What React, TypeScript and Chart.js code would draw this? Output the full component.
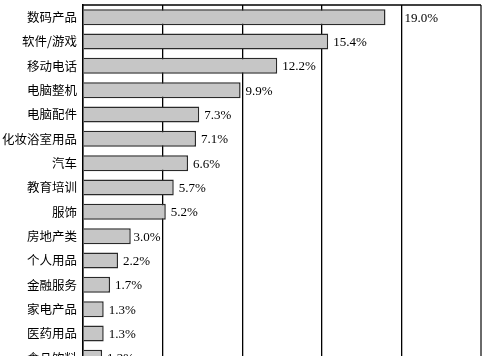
import React, { useEffect, useRef } from "react";
import { Chart, registerables } from "chart.js";

Chart.register(...registerables);

const categories = [
  "数码产品",
  "软件/游戏",
  "移动电话",
  "电脑整机",
  "电脑配件",
  "化妆浴室用品",
  "汽车",
  "教育培训",
  "服饰",
  "房地产类",
  "个人用品",
  "金融服务",
  "家电产品",
  "医药用品",
  "食品饮料",
];
const shares = [19.0, 15.4, 12.2, 9.9, 7.3, 7.1, 6.6, 5.7, 5.2, 3.0, 2.2, 1.7, 1.3, 1.3, 1.2];
const axisMin = 0;
const axisMax = 25;
const axisStep = 5;

const labelPlugin = {
  id: "valueLabels",
  beforeDatasetsDraw(chart: any) {
    const { ctx, chartArea } = chart;
    ctx.save();
    ctx.strokeStyle = "#000";
    ctx.lineWidth = 1.5;
    ctx.beginPath();
    ctx.moveTo(chartArea.left, chartArea.top);
    ctx.lineTo(chartArea.right, chartArea.top);
    ctx.stroke();
    ctx.restore();
  },
  afterDatasetsDraw(chart: any) {
    const { ctx } = chart;
    const xScale = chart.scales.x;
    const meta = chart.getDatasetMeta(0);
    const gridPx: number[] = [];
    for (let v = axisMin; v <= axisMax; v += axisStep) gridPx.push(xScale.getPixelForValue(v));
    ctx.save();
    ctx.font = "13px 'Liberation Serif', 'Times New Roman', serif";
    ctx.fillStyle = "#000";
    ctx.textBaseline = "middle";
    ctx.textAlign = "left";
    meta.data.forEach((bar: any, i: number) => {
      const text = shares[i].toFixed(1) + "%";
      const w = ctx.measureText(text).width;
      let x = bar.x + 5;
      for (const px of gridPx) {
        if (x < px + 2 && x + w > px - 2) {
          const leftX = px - 2 - w;
          if (x - leftX <= 4) x = leftX;
          else x = px + 3;
        }
      }
      ctx.fillText(text, x, bar.y + 1);
    });
    ctx.restore();
  },
};

export default function App() {
  const ref = useRef<HTMLCanvasElement | null>(null);
  useEffect(() => {
    if (!ref.current) return;
    const chart = new Chart(ref.current, {
      type: "bar",
      data: {
        labels: categories,
        datasets: [
          {
            data: shares,
            backgroundColor: "#c6c6c6",
            borderColor: "#2a2a2a",
            borderWidth: 1.5,
            barPercentage: 0.66,
            categoryPercentage: 1,
          },
        ],
      },
      options: {
        indexAxis: "y",
        responsive: false,
        animation: false,
        layout: { padding: { top: 5, right: 19, bottom: 0, left: 0 } },
        plugins: { legend: { display: false }, tooltip: { enabled: false } },
        scales: {
          x: {
            min: axisMin,
            max: axisMax,
            ticks: { display: false, stepSize: axisStep },
            grid: {
              drawTicks: false,
              color: (c: any) => (c.tick && c.tick.value === axisMax ? "#6a6a6a" : "#000"),
              lineWidth: (c: any) => (c.tick && c.tick.value === axisMax ? 2 : 1.3),
            },
            border: { display: false },
            afterFit: (s: any) => {
              s.height = 0;
              s.paddingLeft = 0;
              s.paddingRight = 0;
            },
          },
          y: {
            grid: { display: false, drawTicks: false },
            border: { display: true, color: "#000", width: 1.5 },
            ticks: {
              color: "#000",
              padding: 6,
              font: { family: "'Noto Sans CJK SC', sans-serif", size: 12.5 },
            },
            afterFit: (s: any) => {
              s.width = 83;
              s.paddingTop = 0;
              s.paddingBottom = 0;
            },
          },
        },
      },
      plugins: [labelPlugin],
    });
    return () => chart.destroy();
  }, []);
  return (
    <div style={{ position: "absolute", left: 0, top: 0, width: 500, height: 370 }}>
      <canvas ref={ref} width={500} height={370} />
    </div>
  );
}
